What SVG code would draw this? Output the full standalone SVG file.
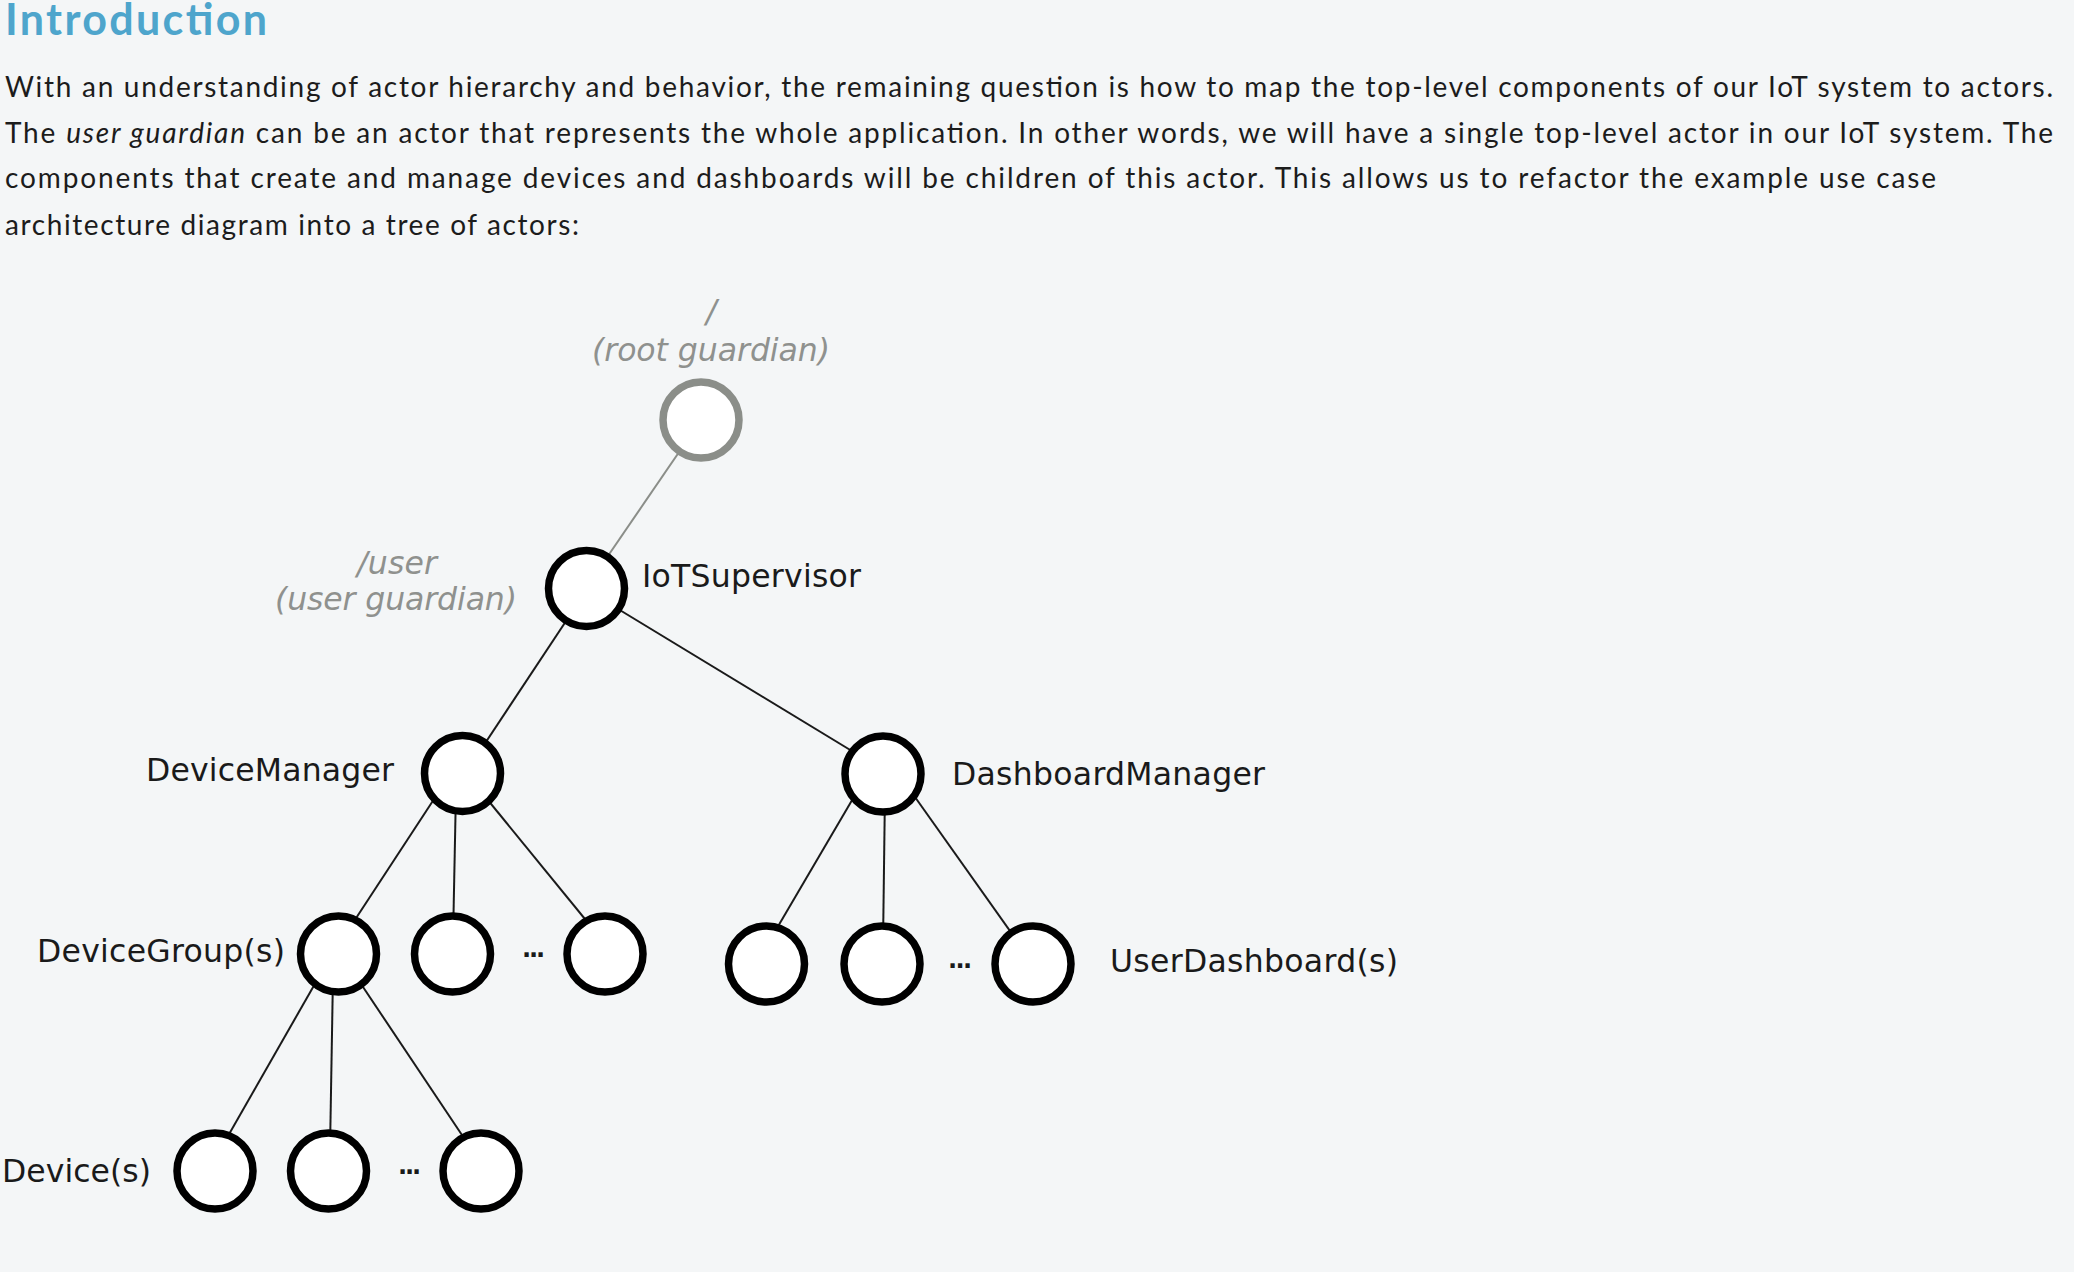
<svg xmlns="http://www.w3.org/2000/svg" width="2074" height="1272" viewBox="0 0 2074 1272">
<defs>
<style>
.title{font-family:Lato,"Open Sans","Liberation Sans",sans-serif;font-size:43px;font-weight:700;fill:#4ea5cc}
.body{font-family:Lato,"Open Sans","Liberation Sans",sans-serif;font-size:28px;fill:#1c1c1c}
.lbl{font-family:"DejaVu Sans","Liberation Sans",sans-serif;font-size:31.5px;fill:#1a1a1a}
.glbl{font-family:"DejaVu Sans","Liberation Sans",sans-serif;font-size:31.5px;font-style:italic;fill:#8f918e}
.dots{font-family:"DejaVu Sans","Liberation Sans",sans-serif;font-size:24px;font-weight:700;fill:#1a1a1a}
.actor{fill:#ffffff;stroke:#000000;stroke-width:7.5}
.root{fill:#ffffff;stroke:#8b8e89;stroke-width:7.5}
.edge{stroke:#1a1a1a;stroke-width:2;fill:none}
.gedge{stroke:#8b8e89;stroke-width:2;fill:none}
</style>
</defs>
<rect x="0" y="0" width="2074" height="1272" fill="#f4f6f7"/>
<g id="intro-text">
<text class="title" x="5" y="35" textLength="262">Introduction</text>
<text class="body" x="5" y="97" textLength="2048">With an understanding of actor hierarchy and behavior, the remaining question is how to map the top-level components of our IoT system to actors.</text>
<text class="body" x="5" y="143" textLength="2048">The <tspan font-style="italic">user guardian</tspan> can be an actor that represents the whole application. In other words, we will have a single top-level actor in our IoT system. The</text>
<text class="body" x="5" y="188" textLength="1931">components that create and manage devices and dashboards will be children of this actor. This allows us to refactor the example use case</text>
<text class="body" x="5" y="235" textLength="574">architecture diagram into a tree of actors:</text>
</g>
<g id="connectors">
<line class="gedge" x1="701" y1="420" x2="586" y2="588"/>
<line class="edge" x1="580" y1="600" x2="472" y2="763"/>
<line class="edge" x1="600" y1="598" x2="870" y2="762"/>
<line class="edge" x1="440" y1="790" x2="345" y2="935"/>
<line class="edge" x1="456" y1="790" x2="453" y2="940"/>
<line class="edge" x1="478" y1="788" x2="598" y2="935"/>
<line class="edge" x1="858" y1="790" x2="770" y2="940"/>
<line class="edge" x1="885" y1="790" x2="883" y2="945"/>
<line class="edge" x1="910" y1="790" x2="1020" y2="945"/>
<line class="edge" x1="320" y1="975" x2="220" y2="1150"/>
<line class="edge" x1="333" y1="975" x2="330" y2="1150"/>
<line class="edge" x1="355" y1="975" x2="472" y2="1150"/>
</g>
<g id="root-guardian">
<circle class="root" cx="701" cy="420" r="38"/>
<text class="glbl" x="706" y="322" textLength="10">/</text>
<text class="glbl" x="592" y="361" textLength="238">(root guardian)</text>
</g>
<g id="iot-supervisor">
<circle class="actor" cx="586.5" cy="588.5" r="38"/>
<text class="glbl" x="357" y="574" textLength="80">/user</text>
<text class="glbl" x="275" y="610" textLength="242">(user guardian)</text>
<text class="lbl" x="642" y="587" textLength="219">IoTSupervisor</text>
</g>
<g id="device-manager">
<circle class="actor" cx="462.5" cy="773.5" r="38"/>
<text class="lbl" x="146" y="781" textLength="248">DeviceManager</text>
</g>
<g id="dashboard-manager">
<circle class="actor" cx="883" cy="774" r="38"/>
<text class="lbl" x="952" y="785" textLength="313">DashboardManager</text>
</g>
<g id="device-groups">
<circle class="actor" cx="338.5" cy="954" r="38"/>
<circle class="actor" cx="452.5" cy="954" r="38"/>
<circle class="actor" cx="605" cy="954" r="38"/>
<text class="dots" x="522" y="957" textLength="23">...</text>
<text class="lbl" x="37" y="962" textLength="248">DeviceGroup(s)</text>
</g>
<g id="user-dashboards">
<circle class="actor" cx="766.5" cy="964" r="38"/>
<circle class="actor" cx="882" cy="964" r="38"/>
<circle class="actor" cx="1033" cy="964" r="38"/>
<text class="dots" x="948" y="968" textLength="24">...</text>
<text class="lbl" x="1110" y="972" textLength="288">UserDashboard(s)</text>
</g>
<g id="devices">
<circle class="actor" cx="215" cy="1171" r="38"/>
<circle class="actor" cx="328.5" cy="1171" r="38"/>
<circle class="actor" cx="481" cy="1171" r="38"/>
<text class="dots" x="398" y="1174" textLength="23">...</text>
<text class="lbl" x="2" y="1182" textLength="149">Device(s)</text>
</g>
</svg>
